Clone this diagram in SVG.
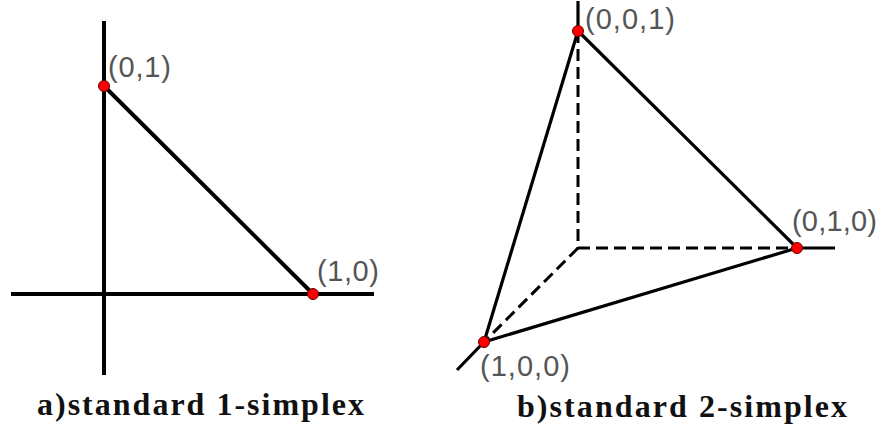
<svg xmlns="http://www.w3.org/2000/svg" width="883" height="430" viewBox="0 0 883 430">
<style>
.ax{stroke:#000;stroke-width:4;fill:none;stroke-linecap:butt}
.ed{stroke:#000;stroke-width:3.2;fill:none}
.da{stroke:#000;stroke-width:3;fill:none;stroke-dasharray:12 6}
.pt{fill:#ff0000;stroke:#600;stroke-width:1}
.lb{font-family:"Liberation Sans","DejaVu Sans",sans-serif;font-size:29px;fill:#555}
.cap{font-family:"Liberation Serif","DejaVu Serif",serif;font-size:32px;font-weight:bold;fill:#111}
</style>
<rect width="883" height="430" fill="#fff"/>
<g id="connectors">
<line class="ax" x1="104" y1="21" x2="104" y2="375"/>
<line class="ax" x1="11" y1="294" x2="374" y2="294"/>
<line class="ax" x1="104" y1="86" x2="313" y2="294"/>
<line class="ed" x1="578" y1="1" x2="578" y2="31"/>
<line class="da" x1="578" y1="31" x2="578" y2="248"/>
<line class="da" x1="578" y1="248" x2="797" y2="248"/>
<line class="da" x1="578" y1="248" x2="484" y2="342"/>
<line class="ed" x1="797" y1="248" x2="835" y2="248"/>
<line class="ed" x1="457" y1="370" x2="484" y2="342"/>
<line class="ed" x1="578" y1="31" x2="797" y2="248"/>
<line class="ed" x1="578" y1="31" x2="484" y2="342"/>
<line class="ed" x1="484" y1="342" x2="797" y2="248"/>
</g>
<g id="p01"><circle class="pt" cx="104" cy="86" r="5.5"/><text class="lb" x="108" y="77" textLength="63" lengthAdjust="spacing">(0,1)</text></g>
<g id="p10"><circle class="pt" cx="313" cy="294" r="5.5"/><text class="lb" x="317" y="281" textLength="62" lengthAdjust="spacing">(1,0)</text></g>
<g id="p001"><circle class="pt" cx="578" cy="31" r="5.5"/><text class="lb" x="585" y="29" textLength="90" lengthAdjust="spacing">(0,0,1)</text></g>
<g id="p010"><circle class="pt" cx="797" cy="248" r="5.5"/><text class="lb" x="792" y="231" textLength="85" lengthAdjust="spacing">(0,1,0)</text></g>
<g id="p100"><circle class="pt" cx="484" cy="342" r="5.5"/><text class="lb" x="480" y="376" textLength="90" lengthAdjust="spacing">(1,0,0)</text></g>
<g id="capA"><text class="cap" x="37" y="415" textLength="327" lengthAdjust="spacing">a)standard 1-simplex</text></g>
<g id="capB"><text class="cap" x="517" y="417" textLength="330" lengthAdjust="spacing">b)standard 2-simplex</text></g>
</svg>
